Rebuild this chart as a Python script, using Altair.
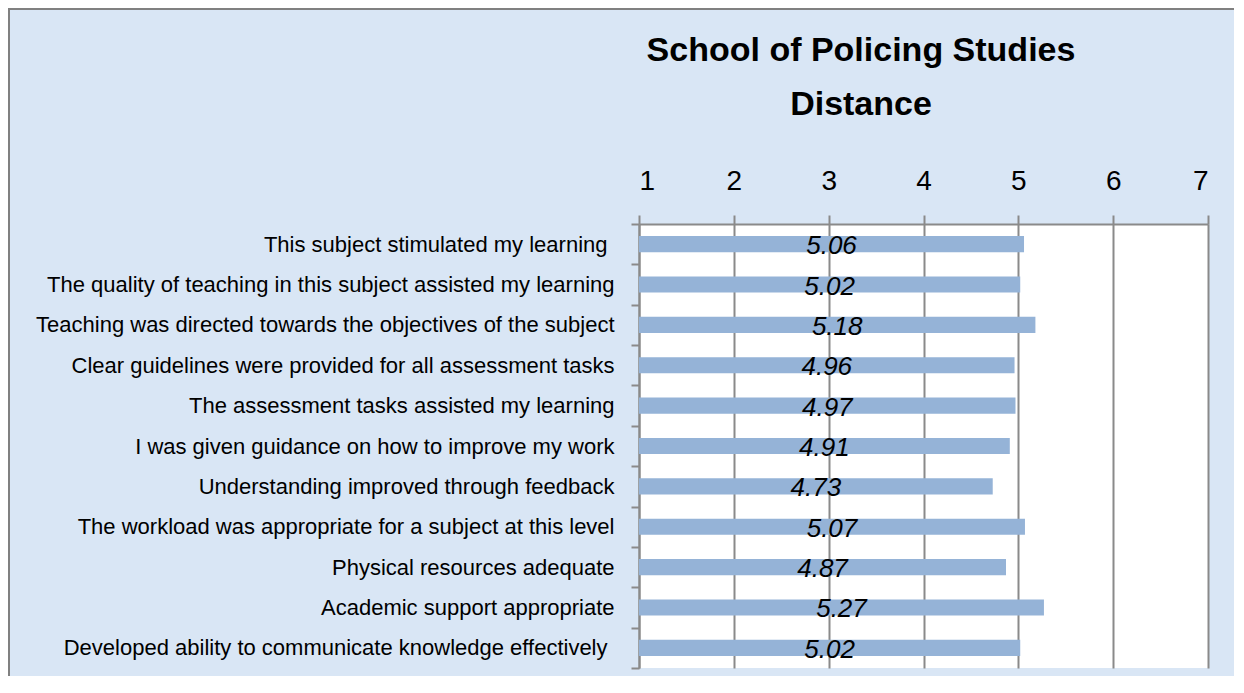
import altair as alt
import pandas as pd

# ---- data ----
categories = [
    "This subject stimulated my learning ",
    "The quality of teaching in this subject assisted my learning",
    "Teaching was directed towards the objectives of the subject",
    "Clear guidelines were provided for all assessment tasks",
    "The assessment tasks assisted my learning",
    "I was given guidance on how to improve my work",
    "Understanding improved through feedback",
    "The workload was appropriate for a subject at this level",
    "Physical resources adequate",
    "Academic support appropriate",
    "Developed ability to communicate knowledge effectively ",
]
scores = [5.06, 5.02, 5.18, 4.96, 4.97, 4.91, 4.73, 5.07, 4.87, 5.27, 5.02]
x_ticks = [1, 2, 3, 4, 5, 6, 7]
title_lines = ["School of Policing Studies", "Distance"]
scale_min, scale_max = 1, 7

df = pd.DataFrame({"item": categories, "score": scores})

# ---- layout / style ----
W, H = 569, 444
PAD = {"left": 631, "top": 216, "right": 26, "bottom": 8}
GRID = "#8a8a8a"
BAR = "#95B3D7"
BG = "#d9e6f5"
SANS = "Liberation Sans, Arial, sans-serif"

x_scale = alt.Scale(domain=[scale_min, scale_max], zero=False, nice=False)
y_scale = alt.Scale(paddingInner=0, paddingOuter=0)

x_axis = alt.Axis(
    orient="top", values=x_ticks, title=None, format="d",
    grid=True, gridColor=GRID, gridWidth=2,
    domainColor=GRID, domainWidth=2,
    tickColor=GRID, tickWidth=2, tickSize=9,
    labelFont=SANS, labelFontSize=28, labelColor="black", labelPadding=20,
)
y_axis = alt.Axis(
    orient="left", title=None, tickBand="extent",
    domainColor=GRID, domainWidth=2,
    tickColor=GRID, tickWidth=2, tickSize=8,
    labelFont=SANS, labelFontSize=22, labelColor="black",
    # labels whose text ends in a space sit slightly further left, as in the original
    labelPadding={"condition": {"test": "test(regexp(' $'), datum.value)", "value": 24}, "value": 17},
    labelLimit=800,
)

base = alt.Chart(df).transform_calculate(
    start=str(scale_min), mid=f"({scale_min} + datum.score) / 2",
    label="format(datum.score, '.2f')",
)

bars = base.mark_bar(color=BAR, height=alt.RelativeBandSize(0.4)).encode(
    x=alt.X("score:Q", scale=x_scale, axis=x_axis),
    x2=alt.X2("start:Q"),
)

labels = base.mark_text(
    font=SANS, fontSize=26, fontStyle="italic", color="black",
    align="center", baseline="middle", dy=2,
).encode(
    x=alt.X("mid:Q", scale=x_scale),
    text="label:N",
)

data_layers = alt.layer(bars, labels).encode(
    y=alt.Y("item:N", sort=categories, scale=y_scale, axis=y_axis),
)

frame = pd.DataFrame({"k": [0]})
border = alt.Chart(frame).mark_rect(
    fillOpacity=0, stroke="#808080", strokeWidth=2,
).encode(
    x=alt.value(-PAD["left"] + 1), x2=alt.value(W + 300),
    y=alt.value(-PAD["top"] + 1), y2=alt.value(H + 300),
)

TITLE_X = 222
title1 = alt.Chart(frame).mark_text(
    font=SANS, fontSize=34, fontWeight="bold", color="black",
    align="center", baseline="alphabetic",
).encode(x=alt.value(TITLE_X), y=alt.value(-163), text=alt.value(title_lines[0]))
title2 = alt.Chart(frame).mark_text(
    font=SANS, fontSize=34, fontWeight="bold", color="black",
    align="center", baseline="alphabetic",
).encode(x=alt.value(TITLE_X), y=alt.value(-109), text=alt.value(title_lines[1]))

chart = alt.layer(border, title1, title2, data_layers).properties(
    width=W, height=H,
    padding=PAD,
    autosize=alt.AutoSizeParams(type="none"),
    background=BG,
).configure_view(fill="white", strokeWidth=0)

chart.save("out.html", embed_options={"renderer": "svg", "actions": False})
